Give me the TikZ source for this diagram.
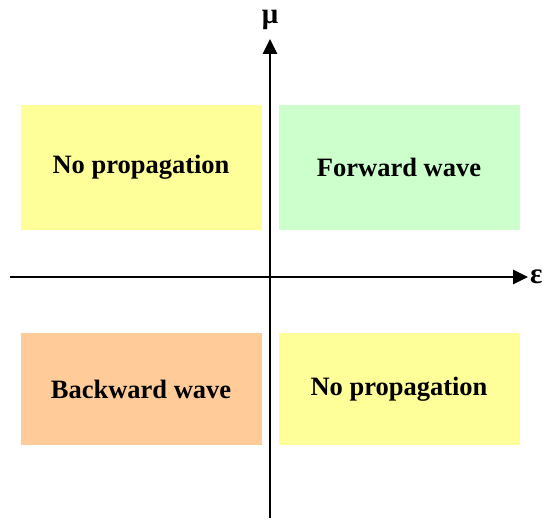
\documentclass[tikz,border=0pt]{standalone}
\usepackage{fontspec}
\setmainfont{Liberation Serif}
\usepackage{xcolor}
\definecolor{lemon}{HTML}{FFFF99}
\definecolor{mint}{HTML}{CCFFCC}
\definecolor{peach}{HTML}{FFCC99}
\usetikzlibrary{positioning,arrows.meta}
\tikzset{
  quad/.style={minimum width=241pt, minimum height=125pt, inner sep=0pt, font=\fontsize{26.5}{30}\selectfont\bfseries},
  lower/.style={quad, minimum height=112pt},
  axis/.style={-{Triangle[length=15pt,width=14pt]}, line width=2.8pt},
  symb/.style={font=\fontsize{29}{32}\selectfont\bfseries, inner sep=0pt},
}

\begin{document}
\begin{tikzpicture}[x=1pt, y=1pt]
  \useasboundingbox (0,0) rectangle (547,522);
  \node[quad, fill=lemon] (nw) at (141,354.5) {No propagation};
  \node[quad, fill=mint] (ne) at (399,354.5) {Forward wave};
  \node[lower, fill=peach] (sw) at (141,133) {Backward wave};
  \node[lower, fill=lemon] (se) at (399,133) {No propagation};
  \coordinate (xl) at (10,245);
  \coordinate (xr) at (528,245);
  \coordinate (yb) at (270,4);
  \coordinate (yt) at (270,483);
  \draw[axis] (xl) -- (xr);
  \draw[axis] (yb) -- (yt);
  \node[symb, right=2pt of xr] (eps) {ε};
  \node[symb, above=9pt of yt] (mu) {μ};
\end{tikzpicture}
\end{document}
